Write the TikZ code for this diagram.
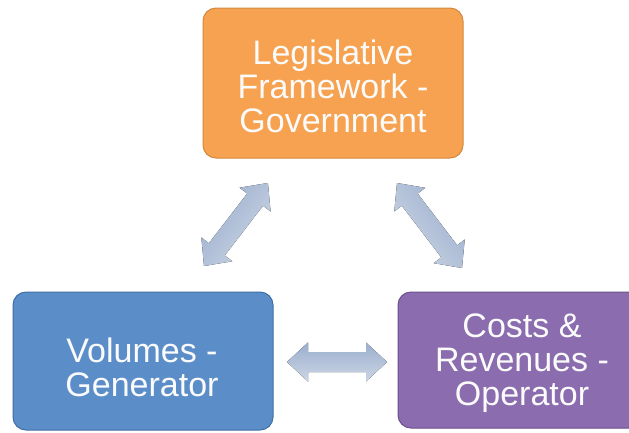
\documentclass[tikz,border=0pt]{standalone}
\usepackage{fontspec}
\setmainfont{Liberation Sans}
\usetikzlibrary{calc}
\definecolor{orangefill}{HTML}{F6A250}
\definecolor{orangeline}{HTML}{D4883E}
\definecolor{bluefill}{HTML}{5B8EC8}
\definecolor{blueline}{HTML}{3F6EA6}
\definecolor{purplefill}{HTML}{8A6CAF}
\definecolor{purpleline}{HTML}{6B4F8E}
\definecolor{arrowdark}{HTML}{9BAFCE}
\definecolor{arrowlight}{HTML}{CCD5E4}
\definecolor{textwhite}{HTML}{FBFBFB}
\tikzset{
  box/.style={draw, line width=1pt, rounded corners=13pt, minimum width=260pt},
  boxtext/.style={text=textwhite, align=center, inner sep=0pt,
    font=\fontsize{34pt}{34pt}\selectfont},
}
\newcommand\dblarrow[3]{% #1 start coordinate, #2 angle, #3 length
  \begin{scope}[shift={(#1)}, rotate=#2]
    \fill[top color=arrowdark, bottom color=arrowlight, shading angle=#2]
      (0,0) -- (21,-19.5) -- (21,-10) -- (#3-21,-10) -- (#3-21,-19.5) -- (#3,0)
      -- (#3-21,19.5) -- (#3-21,10) -- (21,10) -- (21,19.5) -- cycle;
  \end{scope}}
\begin{document}
\begin{tikzpicture}[x=1pt, y=-1pt]
  \useasboundingbox[fill=white] (0,0) rectangle (629,432);
  % boxes
  \node[box, fill=orangefill, draw=orangeline, minimum height=150pt] (gov) at (333,83) {};
  \node[box, fill=bluefill, draw=blueline, minimum height=138pt] (gen) at (143,361) {};
  \node[box, fill=purplefill, draw=purpleline, minimum height=136pt] (op) at (528,360) {};
  % texts
  \node[boxtext] (govtext) at (333,86) {Legislative\\Framework -\\Government};
  \node[boxtext] (gentext) at (142,367) {Volumes -\\Generator};
  \node[boxtext] (optext) at (522,363) {Costs \&\\Revenues -\\Operator};
  % arrow end points
  \coordinate (lA) at (204,266);
  \coordinate (lB) at (268,183);
  \coordinate (rA) at (397,183);
  \coordinate (rB) at (462,268);
  \coordinate (hA) at (287,362);
  \coordinate (hB) at (387,362);
  \dblarrow{lA}{52.4}{104.8}
  \dblarrow{rA}{-52.6}{107}
  \dblarrow{hA}{0}{100}
\end{tikzpicture}
\end{document}
